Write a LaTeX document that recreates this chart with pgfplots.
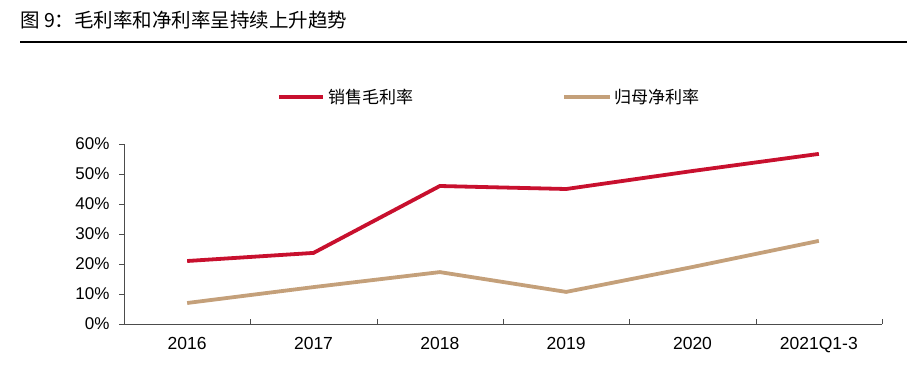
\documentclass[border=0pt]{standalone}
\usepackage{pgfplots}
\pgfplotsset{compat=1.18}
\usepackage{fontspec}
\setmainfont{Liberation Sans}
\newfontfamily\cjk{Noto Sans CJK SC}
\definecolor{cred}{RGB}{200,16,46}
\definecolor{ctan}{RGB}{196,160,122}
\begin{document}
\begin{tikzpicture}[x=1bp,y=1bp]
\useasboundingbox (0,0) rectangle (907,377);
% title
\node[anchor=west,inner sep=0pt,font=\cjk\fontsize{19.5bp}{22bp}\selectfont] at (20,357) {图 9：毛利率和净利率呈持续上升趋势};
\draw[line width=1.8bp] (20,335) -- (907,335);
% legend
\draw[cred,line width=3.8bp] (279,280) -- (323,280);
\node[anchor=west,inner sep=0pt,font=\cjk\fontsize{17bp}{20bp}\selectfont] at (328,280) {销售毛利率};
\draw[ctan,line width=3.8bp] (564,280) -- (610,280);
\node[anchor=west,inner sep=0pt,font=\cjk\fontsize{17bp}{20bp}\selectfont] at (614,280) {归母净利率};
\begin{axis}[
  at={(124bp,53bp)}, anchor=south west,
  width=758bp, height=180bp, scale only axis,
  xmin=-0.5, xmax=5.5, ymin=0, ymax=60,
  axis x line*=bottom, axis y line*=left,
  xtick={0,...,5},
  xticklabels={2016,2017,2018,2019,2020,2021Q1-3},
  major x tick style={draw=none},
  minor xtick={-0.5,0.5,...,5.5},
  minor x tick style={draw=black!70},
  minor tick length=5bp,
  tick align=inside,
  x tick label style={font=\fontsize{17.5bp}{20bp}\selectfont, yshift=-10bp},
  ytick={0,10,...,60},
  yticklabel={\pgfmathprintnumber{\tick}\%},
  y tick label style={font=\fontsize{17bp}{20bp}\selectfont, xshift=-11bp},
  major tick length=5bp,
  y tick style={draw=black!70, xshift=-5bp},
  xtick pos=bottom, ytick pos=left,
  axis line style={draw=black!70, line width=0.8bp},
  /pgf/number format/assume math mode=true,
  clip=false,
]
\addplot[cred, line width=3.8bp] coordinates {(0,21.0) (1,23.7) (2,46.0) (3,45.0) (4,51.0) (5,56.7)};
\addplot[ctan, line width=3.8bp] coordinates {(0,7.0) (1,12.3) (2,17.3) (3,10.7) (4,19.0) (5,27.7)};
\end{axis}
\end{tikzpicture}
\end{document}
